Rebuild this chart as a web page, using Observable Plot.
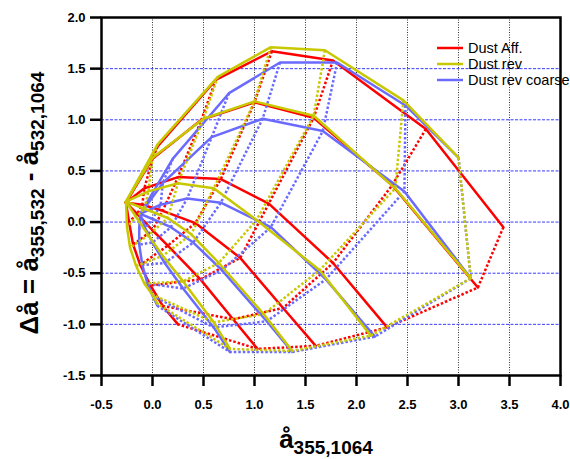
<!DOCTYPE html>
<html><head><meta charset="utf-8">
<script src="https://cdn.jsdelivr.net/npm/d3@7"></script>
<script src="https://cdn.jsdelivr.net/npm/@observablehq/plot@0.6"></script>
<style>body{margin:0;background:#fff}#chart{width:570px;height:459px}</style>
</head><body><div id="chart"></div>
<script>
// ---- data ----
const seriesNames = ["Dust Aff.", "Dust rev", "Dust rev coarse"];
const xTicks = [-0.5, 0, 0.5, 1, 1.5, 2, 2.5, 3, 3.5, 4];
const yTicks = [-1.5, -1, -0.5, 0, 0.5, 1, 1.5, 2];
const xGrid = [0, 0.5, 1, 1.5, 2, 2.5, 3, 3.5];
const yGrid = [-1, -0.5, 0, 0.5, 1, 1.5];

// each arc: solid curve; the j-th points of all arcs are joined by a dotted curve
const dustAffArcs = [
  [[-0.26,0.19],[0.05,0.74],[0.62,1.39],[1.17,1.67],[1.77,1.58],[2.68,0.91],[3.44,-0.05]],
  [[-0.26,0.19],[0.0,0.62],[0.48,1.0],[1.0,1.17],[1.58,1.02],[2.35,0.36],[3.19,-0.64]],
  [[-0.26,0.19],[-0.08,0.33],[0.25,0.44],[0.67,0.42],[1.14,0.18],[1.77,-0.4],[2.30,-1.03]],
  [[-0.26,0.19],[-0.1,0.17],[0.1,0.11],[0.42,-0.01],[0.86,-0.35],[1.28,-0.84],[1.6,-1.21]],
  [[-0.26,0.19],[-0.15,0.08],[0.0,-0.08],[0.15,-0.23],[0.47,-0.56],[0.79,-0.95],[1.03,-1.24]],
  [[-0.26,0.19],[-0.23,0.0],[-0.19,-0.22],[-0.12,-0.42],[-0.02,-0.62],[0.1,-0.82],[0.25,-1.0]]
];
const dustRevArcs = [
  [[-0.26,0.2],[0.05,0.76],[0.64,1.42],[1.16,1.71],[1.69,1.68],[2.46,1.19],[3.0,0.63]],
  [[-0.26,0.2],[0.0,0.63],[0.5,1.01],[1.0,1.18],[1.58,1.04],[2.38,0.33],[3.12,-0.55]],
  [[-0.26,0.2],[-0.04,0.3],[0.25,0.38],[0.6,0.33],[1.02,0.02],[1.64,-0.47],[2.14,-1.11]],
  [[-0.26,0.2],[-0.08,0.13],[0.15,0.04],[0.38,-0.12],[0.65,-0.4],[1.09,-0.9],[1.37,-1.26]],
  [[-0.26,0.2],[-0.16,0.05],[-0.04,-0.13],[0.1,-0.33],[0.3,-0.58],[0.6,-0.98],[0.76,-1.24]],
  [[-0.26,0.2],[-0.25,-0.05],[-0.22,-0.25],[-0.16,-0.43],[-0.08,-0.6],[0.0,-0.71],[0.05,-0.8]]
];
const dustRevCoarseArcs = [
  [[-0.12,0.08],[0.2,0.62],[0.75,1.26],[1.25,1.56],[1.81,1.56],[2.48,1.14],[3.0,0.63]],
  [[-0.12,0.08],[0.1,0.38],[0.58,0.83],[1.08,1.01],[1.67,0.89],[2.47,0.3],[3.12,-0.55]],
  [[-0.12,0.08],[0.08,0.17],[0.34,0.23],[0.67,0.19],[1.16,-0.05],[1.7,-0.56],[2.18,-1.12]],
  [[-0.12,0.08],[0.0,0.03],[0.18,-0.05],[0.4,-0.2],[0.68,-0.47],[1.12,-0.97],[1.37,-1.27]],
  [[-0.12,0.08],[-0.07,-0.06],[0.0,-0.2],[0.12,-0.4],[0.3,-0.65],[0.6,-1.03],[0.76,-1.27]],
  [[-0.12,0.08],[-0.13,-0.06],[-0.13,-0.22],[-0.1,-0.42],[-0.05,-0.6],[0.0,-0.72],[0.05,-0.82]]
];

// ---- styling ----
const colors = {"Dust Aff.": "#ff0000", "Dust rev": "#c8c800", "Dust rev coarse": "#6a6aff"};
const FONT = "'Liberation Sans', Arial, Helvetica, sans-serif";

function toRows(arcs, series) {
  const solid = [], dotted = [];
  arcs.forEach((arc, i) => arc.forEach(([x, y]) => solid.push({series, key: "s" + i, x, y})));
  const n = arcs[0].length;
  for (let j = 1; j < n; j++) arcs.forEach(arc => dotted.push({series, key: "d" + j, x: arc[j][0], y: arc[j][1]}));
  return {solid, dotted};
}
const red = toRows(dustAffArcs, seriesNames[0]);
const yel = toRows(dustRevArcs, seriesNames[1]);
const blu = toRows(dustRevCoarseArcs, seriesNames[2]);

function lineMarks(rows, color) {
  return [
    Plot.line(rows.dotted, {x: "x", y: "y", z: "key", stroke: color, strokeWidth: 2.5, strokeDasharray: "2.5,2", strokeLinecap: "butt"}),
    Plot.line(rows.solid, {x: "x", y: "y", z: "key", stroke: color, strokeWidth: 2.5, strokeLinejoin: "miter"})
  ];
}

const svg = Plot.plot({
  width: 570, height: 459,
  marginTop: 17, marginRight: 10, marginBottom: 84, marginLeft: 101,
  x: {domain: [-0.5, 4]},
  y: {domain: [-1.5, 2]},
  style: {fontFamily: FONT, fontSize: "13px", fontWeight: "bold", background: "white", color: "black"},
  marks: [
    Plot.ruleX(xGrid, {stroke: "#333", strokeWidth: 1, strokeDasharray: "1,1.5"}),
    Plot.ruleY(yGrid, {stroke: "#3a3aff", strokeWidth: 1, strokeDasharray: "3,1.5"}),
    ...lineMarks(red, colors[seriesNames[0]]),
    ...lineMarks(blu, colors[seriesNames[2]]),
    ...lineMarks(yel, colors[seriesNames[1]]),
    Plot.frame({stroke: "black", strokeWidth: 2.5}),
    Plot.axisX(xTicks, {tickSize: 11, tickPadding: 13, strokeWidth: 2.5, tickFormat: d => d.toFixed(1), label: null, fontSize: 13, fontWeight: "bold"}),
    Plot.axisY(yTicks, {tickSize: 11, tickPadding: 5, strokeWidth: 2.5, tickFormat: d => d.toFixed(1), label: null, fontSize: 13, fontWeight: "bold"})
  ]
});
document.getElementById("chart").appendChild(svg);

const s = d3.select(svg);
// legend
const legendY = [48, 64, 80];
seriesNames.forEach((name, i) => {
  s.append("line").attr("x1", 437).attr("x2", 463).attr("y1", legendY[i]).attr("y2", legendY[i])
    .attr("stroke", colors[name]).attr("stroke-width", 2.5);
  s.append("text").attr("x", 468).attr("y", legendY[i]).attr("dy", "0.35em")
    .attr("text-anchor", "start")
    .attr("font-family", FONT).attr("font-size", 14.5).attr("font-weight", "normal").attr("fill", "black")
    .text(name);
});

// x-axis title
const xt = s.append("text").attr("x", 326).attr("y", 448).attr("text-anchor", "middle")
  .attr("font-family", FONT).attr("font-weight", "bold").attr("font-size", 26).attr("fill", "black")
  .style("white-space", "pre");
xt.append("tspan").text("å");
xt.append("tspan").attr("font-size", 19).attr("dy", 6).text("355,1064");

// y-axis title
const yt = s.append("text").attr("transform", "translate(38,203) rotate(-90)").attr("text-anchor", "middle")
  .attr("font-family", FONT).attr("font-weight", "bold").attr("font-size", 26).attr("fill", "black")
  .style("white-space", "pre");
yt.append("tspan").text("Δå = å");
yt.append("tspan").attr("font-size", 19).attr("dy", 6).text("355,532");
yt.append("tspan").attr("dy", -6).text(" - å");
yt.append("tspan").attr("font-size", 19).attr("dy", 6).text("532,1064");
</script>
</body></html>
